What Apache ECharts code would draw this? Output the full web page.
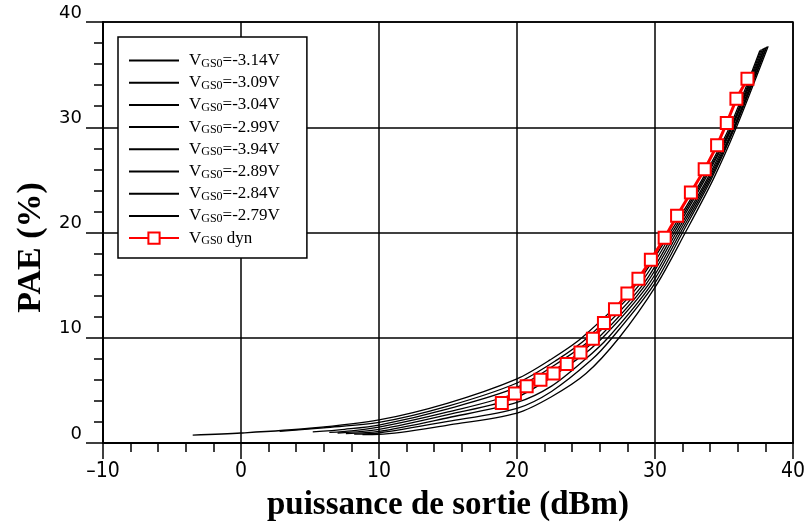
<!DOCTYPE html>
<html>
<head>
<meta charset="utf-8">
<script src="https://cdn.jsdelivr.net/npm/echarts@6.0.0/dist/echarts.min.js"></script>
<style>
  html, body { margin: 0; padding: 0; background: #fff; }
  #chart-div { width: 804px; height: 522px; }
</style>
</head>
<body>
<div id="chart-div"></div>
<script>
// PAE (%) vs output power (dBm), one curve per static VGS0
var curveNames = ['VGS0=-3.14V', 'VGS0=-3.09V', 'VGS0=-3.04V', 'VGS0=-2.99V',
  'VGS0=-3.94V', 'VGS0=-2.89V', 'VGS0=-2.84V', 'VGS0=-2.79V'];

var c314 = [[-3.5,0.75],[0,0.95],[5,1.4],[10,2.2],[15,3.8],[20,6.1],[22.4,7.9],[24.7,10],[28.6,15],[31.1,20],[33.4,25],[35.4,30],[37.6,37.3]];
var c309 = [[2.8,1.1],[6,1.45],[10,1.95],[15,3.5],[20,5.7],[22.9,7.9],[25.1,10],[28.85,15],[31.25,20],[33.5,25],[35.5,30],[37.7,37.4]];
var c304 = [[5.2,1.05],[7.5,1.3],[10,1.7],[15,3.25],[20,5.3],[23.3,7.9],[25.5,10],[29.1,15],[31.4,20],[33.6,25],[35.55,30],[37.8,37.45]];
var c299 = [[6.4,1.0],[8,1.15],[10,1.5],[15,2.95],[20,4.8],[23.8,7.9],[25.9,10],[29.3,15],[31.55,20],[33.75,25],[35.6,30],[37.9,37.5]];
var c294 = [[7.0,0.95],[10,1.3],[15,2.7],[20,4.35],[24.3,7.9],[26.2,10],[29.5,15],[31.7,20],[33.85,25],[35.7,30],[37.95,37.55]];
var c289 = [[7.6,0.9],[10,1.1],[15,2.4],[20,3.85],[22.5,5.4],[24.9,7.9],[26.6,10],[29.7,15],[31.85,20],[33.95,25],[35.75,30],[38.05,37.6]];
var c284 = [[8.2,0.85],[10,0.95],[15,2.05],[20,3.3],[22.5,4.9],[25.4,7.9],[26.9,10],[29.9,15],[32.0,20],[34.05,25],[35.8,30],[38.1,37.65]];
var c279 = [[8.8,0.8],[10,0.82],[15,1.7],[20,2.85],[22.5,4.4],[25,6.6],[27.4,10],[30.1,15],[32.2,20],[34.2,25],[35.9,30],[38.2,37.7]];
var curves = [c314, c309, c304, c299, c294, c289, c284, c279];

// dynamic VGS0 (red squares)
var dynX = [18.9, 19.85, 20.7, 21.7, 22.65, 23.6, 24.6, 25.5, 26.3, 27.1, 28.0, 28.8, 29.7, 30.7, 31.6, 32.6, 33.6, 34.5, 35.2, 35.9, 36.7];
var dynY = [3.8, 4.7, 5.4, 6.0, 6.6, 7.5, 8.6, 9.9, 11.4, 12.7, 14.2, 15.6, 17.4, 19.5, 21.6, 23.8, 26.0, 28.3, 30.4, 32.7, 34.6];
var dynName = 'VGS0 dyn';

var xTicks = { min: -10, max: 40, step: 10 };
var yTicks = { min: 0, max: 40, step: 10 };

var myChart = echarts.init(document.getElementById('chart-div'));

var series = curves.map(function (pts, i) {
  return {
    name: curveNames[i],
    type: 'line',
    data: pts,
    symbol: 'none',
    smooth: 0.3,
    lineStyle: { color: '#000', width: 1.3 },
    itemStyle: { color: '#000' },
    z: 3
  };
});
series.push({
  name: dynName,
  type: 'line',
  data: dynX.map(function (x, i) { return [x, dynY[i]]; }),
  symbol: 'rect',
  symbolSize: 12,
  lineStyle: { color: '#ff0000', width: 3 },
  itemStyle: { color: '#fff', borderColor: '#ff0000', borderWidth: 2 },
  z: 5
});

// legend: plain line for the static curves, line + square for dyn
var legendData = curveNames.map(function (n) {
  return { name: n, itemStyle: { opacity: 0 } };
}).concat([{ name: dynName }]);

var black = '#000';
myChart.setOption({
  backgroundColor: '#fff',
  animation: false,
  grid: {
    left: 103, right: 11, top: 22, bottom: 79,
    outerBoundsMode: 'none',
    show: true, borderColor: black, borderWidth: 1.5
  },
  legend: {
    orient: 'vertical',
    left: 118,
    top: 37,
    padding: [15, 27, 11, 10],
    itemGap: 4.7,
    itemWidth: 50,
    itemHeight: 14,
    backgroundColor: '#fff',
    borderColor: black,
    borderWidth: 1.5,
    data: legendData,
    formatter: function (name) {
      var rest = name.slice(4);
      return '{v|V}{s|GS0}{v|' + rest + '}';
    },
    textStyle: {
      fontFamily: 'Liberation Serif',
      fontSize: 17,
      color: black,
      padding: [0, 0, 0, 5],
      rich: {
        v: { fontFamily: 'Liberation Serif', fontSize: 17, lineHeight: 18, color: black },
        s: { fontFamily: 'Liberation Serif', fontSize: 12, lineHeight: 11, verticalAlign: 'bottom', color: black }
      }
    }
  },
  xAxis: {
    type: 'value',
    min: xTicks.min, max: xTicks.max, interval: xTicks.step,
    name: 'puissance de sortie (dBm)',
    nameLocation: 'middle',
    nameGap: 46,
    nameTextStyle: { fontFamily: 'Liberation Serif', fontWeight: 'bold', fontSize: 33, color: black },
    axisLine: { onZero: false, lineStyle: { color: black, width: 2 } },
    axisTick: { length: 16, lineStyle: { color: black, width: 1.5 } },
    minorTick: { show: true, splitNumber: 5, length: 9, lineStyle: { color: black, width: 1.5 } },
    splitLine: { show: true, lineStyle: { color: black, width: 1.5 } },
    axisLabel: {
      margin: 18,
      fontFamily: 'DejaVu Sans Condensed, DejaVu Sans, sans-serif',
      fontSize: 21,
      color: black,
      formatter: function (v) { return String(v).replace('-', '\u2013'); }
    }
  },
  yAxis: {
    type: 'value',
    min: yTicks.min, max: yTicks.max, interval: yTicks.step,
    name: 'PAE (%)',
    nameLocation: 'middle',
    nameGap: 54,
    nameTextStyle: { fontFamily: 'Liberation Serif', fontWeight: 'bold', fontSize: 34, color: black, padding: [0, 30, 0, 0] },
    axisLine: { onZero: false, lineStyle: { color: black, width: 2 } },
    axisTick: { length: 17, lineStyle: { color: black, width: 1.5 } },
    minorTick: { show: true, splitNumber: 5, length: 9, lineStyle: { color: black, width: 1.5 } },
    splitLine: { show: true, lineStyle: { color: black, width: 1.5 } },
    axisLabel: {
      margin: 21,
      fontFamily: 'DejaVu Sans',
      fontSize: 18,
      color: black,
      verticalAlign: 'bottom'
    }
  },
  series: series
});
window.addEventListener('resize', myChart.resize);
</script>
</body>
</html>
